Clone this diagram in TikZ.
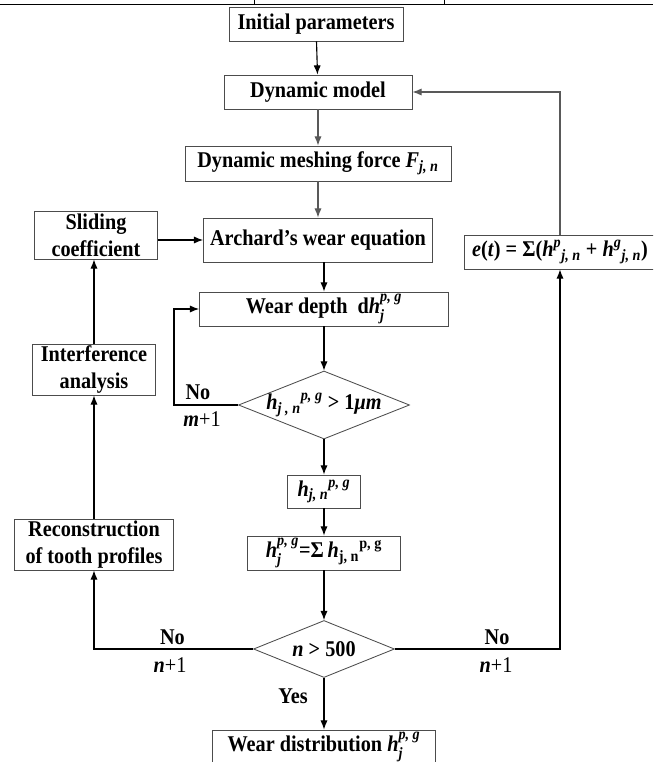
\documentclass[tikz,border=0pt]{standalone}
\usepackage{fontspec}
\setmainfont{Liberation Serif}[FakeStretch=0.9]
\usepackage{amsmath}
\usepackage{xcolor}
\usepackage{tikz}
\usetikzlibrary{arrows.meta,shapes.geometric}
\newcommand{\mtx}[1]{\text{\itshape #1}}
\definecolor{boxline}{gray}{0.3}
\definecolor{flowgray}{gray}{0.35}

\begin{document}
\begin{tikzpicture}[
  font=\fontsize{16pt}{19pt}\selectfont\bfseries,
  box/.style={draw=boxline, line width=0.6pt, rectangle, fill=white, inner sep=0pt, align=center},
  decision/.style={draw=boxline, line width=0.6pt, diamond, inner sep=0pt},
  arr/.style={-{Latex[length=0.23cm, width=0.18cm]}, line width=0.8pt},
  grayarr/.style={arr, draw=flowgray},
  tag/.style={inner sep=0pt}]%
\useasboundingbox (0,0) rectangle (16.325,-19.05);%
\clip (0,0) rectangle (16.325,-19.05);%
% rule of the table above
\draw[line width=1.4pt] (0,-0.1125) -- (16.325,-0.1125);%
\draw[line width=0.7pt] (6.35,0) -- (6.35,-0.1125);%
\draw[line width=0.7pt] (11.1,0) -- (11.1,-0.1125);%
% main column
\node[box, minimum width=4.35cm, minimum height=0.85cm] (init) at (7.9, -0.6) {Initial parameters};%
\node[box, minimum width=4.7cm, minimum height=0.85cm] (dyn) at (7.95, -2.3) {Dynamic model};%
\node[box, minimum width=6.65cm, minimum height=0.875cm] (force) at (7.95, -4.0875) {Dynamic meshing force \textit{F}$_{\mtx{j, n}}$};%
\node[box, minimum width=5.725cm, minimum height=1.1cm] (archard) at (7.95, -6.0) {Archard’s wear equation};%
\node[box, minimum width=6.225cm, minimum height=0.85cm] (depth) at (8.1, -7.725) {Wear depth\ \ d\textit{h}$_{\mtx{j}}^{\mtx{p, g}}$};%
\node[decision, minimum width=4.275cm, minimum height=1.7cm] (dia1) at (8.1, -10.125) {\makebox[0pt]{\textit{h}$_{\mtx{j , n}}{}^{\mtx{p, g}}$ > 1\textit{μm}}};%
\node[box, minimum width=1.825cm, minimum height=0.825cm] (hjn) at (8.1, -12.2875) {\textit{h}$_{\mtx{j, n}}{}^{\mtx{p, g}}$};%
\node[box, minimum width=3.825cm, minimum height=0.85cm] (sum) at (8.1, -13.825) {\textit{h}$_{\mtx{j}}^{\mtx{p, g}}$=Σ\,\textit{h}$_{\text{j, n}}{}^{\text{p, g}}$};%
\node[decision, minimum width=3.525cm, minimum height=1.425cm] (dia2) at (8.1, -16.225) {\makebox[0pt]{\textit{n} > 500}};%
\node[box, minimum width=5.575cm, minimum height=0.85cm] (dist) at (8.1, -18.675) {Wear distribution \textit{h}$_{\mtx{j}}^{\mtx{p, g}}$};%
% side boxes
\node[box, minimum width=3.075cm, minimum height=1.2cm] (sliding) at (2.4, -5.875) {Sliding\\coefficient};%
\node[box, minimum width=3.075cm, minimum height=1.275cm] (interf) at (2.35, -9.2375) {Interference\\analysis};%
\node[box, minimum width=3.975cm, minimum height=1.275cm] (recon) at (2.35, -13.6125) {Reconstruction\\of tooth profiles};%
\node[box, minimum width=4.8cm, minimum height=0.85cm] (etbox) at (14.0, -6.3) {\textit{e}(\textit{t}) = Σ(\textit{h}$^{\mtx{p}}{}_{\mtx{j, n}}$ + \textit{h}$^{\mtx{g}}{}_{\mtx{j, n}}$)};%
\coordinate (mloop) at (4.35, -10.125);%
% labels
\node[tag] (no1) at (4.95, -9.8) {No};%
\node[tag] (m1) at (5.05, -10.475) {\textit{m}{\mdseries +1}};%
\node[tag] (no2) at (4.3125, -15.925) {No};%
\node[tag] (n2) at (4.25, -16.625) {\textit{n}{\mdseries +1}};%
\node[tag] (no3) at (12.425, -15.925) {No};%
\node[tag] (n3) at (12.4, -16.625) {\textit{n}{\mdseries +1}};%
\node[tag] (yes) at (7.325, -17.4) {Yes};%
% connectors
\draw[arr] (init) -- (dyn);%
\draw[grayarr] (dyn) -- (force);%
\draw[grayarr] (force) -- (archard);%
\draw[arr] (sliding.east |- archard.west) -- (archard.west);%
\draw[arr] (archard.south -| depth.north) -- (depth.north);%
\draw[arr] (depth) -- (dia1);%
\draw[arr] (dia1) -- (hjn);%
\draw[arr] (hjn) -- (sum);%
\draw[arr] (sum) -- (dia2);%
\draw[arr] (dia2) -- (dist);%
\draw[arr] (dia1.west) -- (mloop) |- (depth.west);%
\draw[arr] (dia2.west) -| (recon.south);%
\draw[arr] (recon) -- (interf);%
\draw[arr] (interf.north) -- (interf.north |- sliding.south);%
\draw[arr] (dia2.east) -| (etbox.south);%
\draw[grayarr] (etbox.north) |- (dyn.east);%
\end{tikzpicture}
\end{document}
